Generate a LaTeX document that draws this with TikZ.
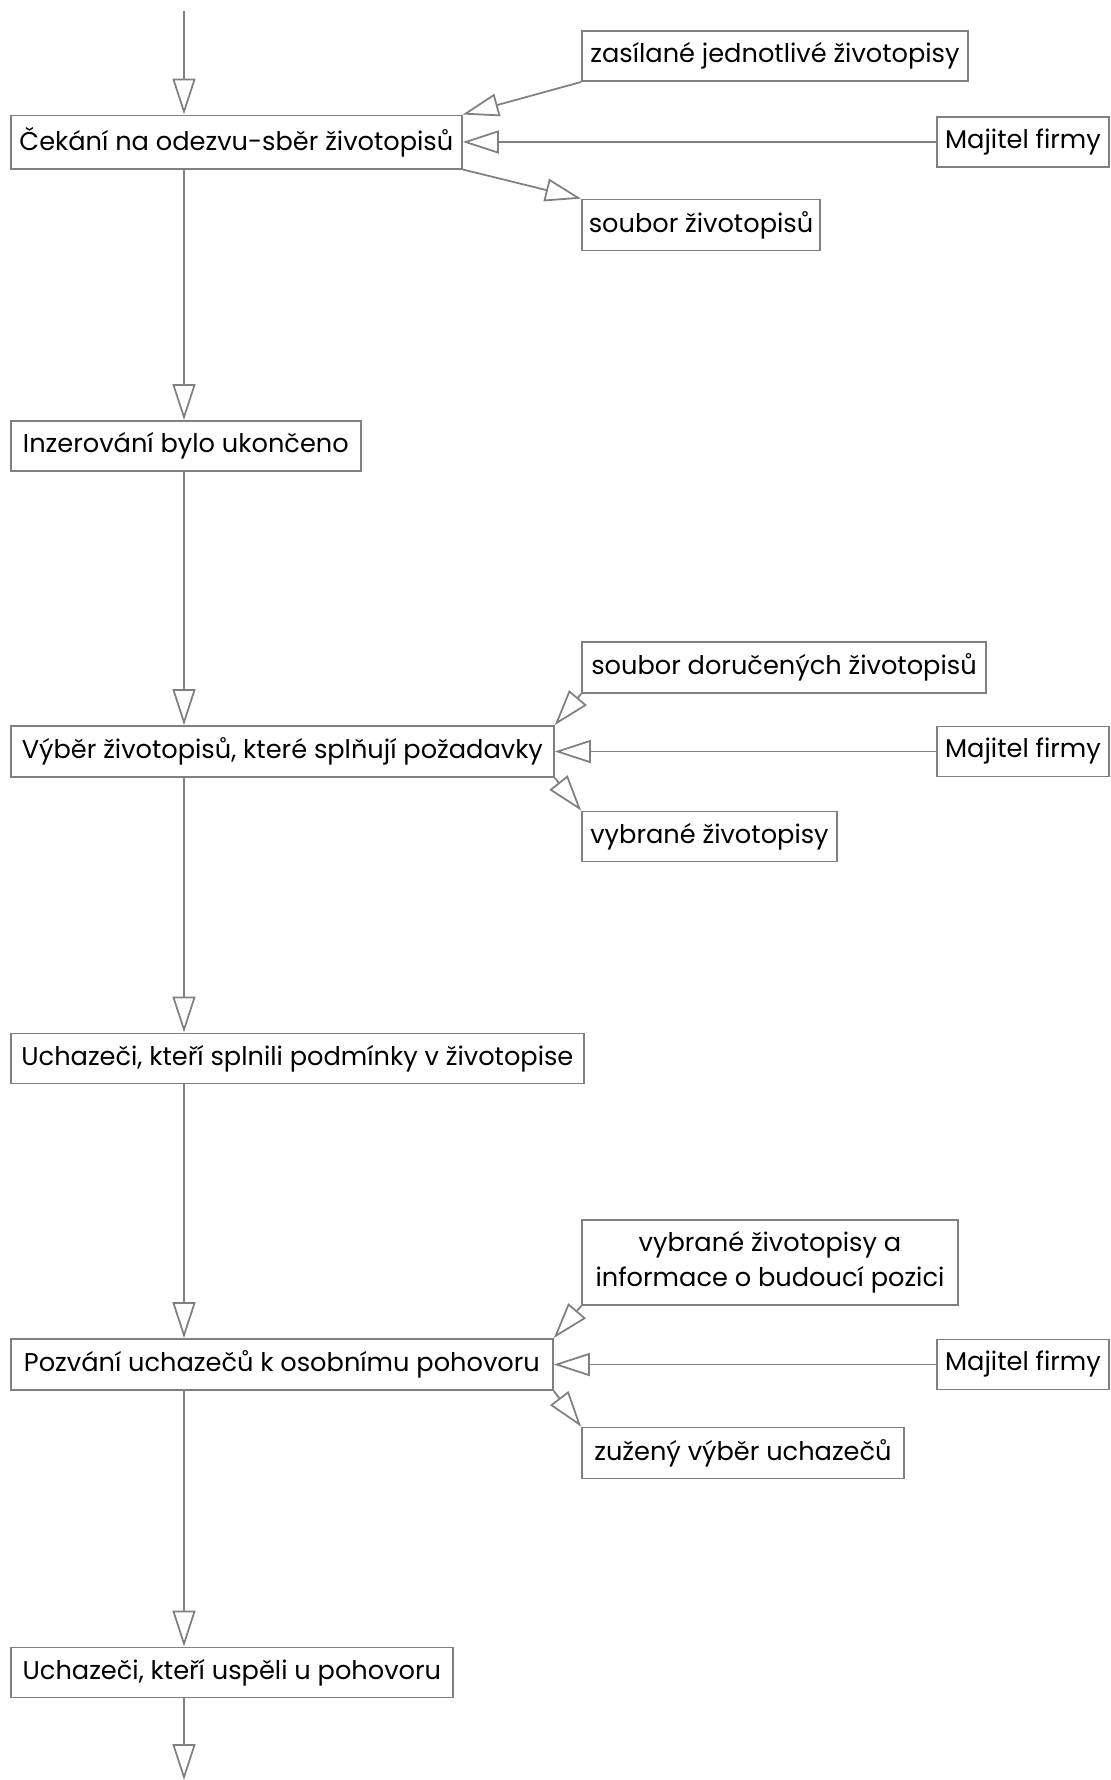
\documentclass[tikz,border=0pt]{standalone}
\usepackage{fontspec}
\setmainfont{Poppins}
\usepackage{tikz}
\usetikzlibrary{arrows.meta, positioning}
\tikzstyle{process} = [rectangle, draw=gray, line width=0.5pt, text=black, minimum height=0.5cm, inner xsep=0.06cm, anchor=west, font=\fontsize{7.3}{10}\selectfont]
\tikzstyle{datbox} = [process, anchor=center, align=center]
\tikzstyle{arrow} = [draw=gray, line width=0.5pt, -{Triangle[open, length=3.6mm, width=2.3mm]}]

\begin{document}
\begin{tikzpicture}
\useasboundingbox (0,0) rectangle (11.11,-17.80);
\coordinate (start) at (1.84,-0.11);
\coordinate (end) at (1.84,-17.80);

%Krok 1==============================================
\node (pro1) [process, minimum width=4.51cm] at (0.10,-1.42) {Čekání na odezvu-sběr životopisů};
\node (in1) [datbox, minimum width=3.86cm] at (7.75,-0.56) {zasílané jednotlivé životopisy};
\node (own1) [datbox, minimum width=1.72cm] at (10.23,-1.42) {Majitel firmy};
\node (out1) [datbox, minimum width=2.38cm, minimum height=0.48cm] at (7.01,-2.25) {soubor životopisů};

%Krok 2==============================================
\node (pro2) [process, minimum width=3.50cm] at (0.10,-4.46) {Inzerování bylo ukončeno};

%Krok 3==============================================
\node (pro3) [process, minimum width=5.43cm] at (0.10,-7.515) {Výběr životopisů, které splňují požadavky};
\node (in3) [datbox, minimum width=4.04cm] at (7.84,-6.675) {soubor doručených životopisů};
\node (own3) [datbox, minimum width=1.72cm] at (10.23,-7.515) {Majitel firmy};
\node (out3) [datbox, minimum width=2.55cm] at (7.095,-8.365) {vybrané životopisy};

%Krok 4==============================================
\node (pro4) [process, minimum width=5.73cm] at (0.10,-10.585) {Uchazeči, kteří splnili podmínky v životopise};

%Krok 5==============================================
\node (pro5) [process, minimum width=5.42cm] at (0.10,-13.645) {Pozvání uchazečů k osobnímu pohovoru};
\node (in5) [datbox, minimum width=3.76cm, minimum height=0.85cm] at (7.70,-12.625) {vybrané životopisy a\\informace o budoucí pozici};
\node (own5) [datbox, minimum width=1.72cm] at (10.23,-13.645) {Majitel firmy};
\node (out5) [datbox, minimum width=3.22cm] at (7.43,-14.53) {zužený výběr uchazečů};

%Krok 6==============================================
\node (pro6) [process, minimum width=4.42cm] at (0.10,-16.725) {Uchazeči, kteří uspěli u pohovoru};

%==============================================
\draw [arrow] (start) -- (pro1.north -| start);
\draw [arrow] (pro1.south -| start) -- (pro2.north -| start);
\draw [arrow] (pro2.south -| start) -- (pro3.north -| start);
\draw [arrow] (pro3.south -| start) -- (pro4.north -| start);
\draw [arrow] (pro4.south -| start) -- (pro5.north -| start);
\draw [arrow] (pro5.south -| start) -- (pro6.north -| start);
\draw [arrow] (pro6.south -| start) -- (end);

\draw [arrow] (in1.south west) -- (pro1.north east);
\draw [arrow] (own1) -- (pro1);
\draw [arrow] (pro1.south east) -- (out1.north west);

\draw [arrow] (in3.south west) -- (pro3.north east);
\draw [arrow] (own3) -- (pro3);
\draw [arrow] (pro3.south east) -- (out3.north west);

\draw [arrow] (in5.south west) -- (pro5.north east);
\draw [arrow] (own5) -- (pro5);
\draw [arrow] (pro5.south east) -- (out5.north west);
\end{tikzpicture}
\end{document}
